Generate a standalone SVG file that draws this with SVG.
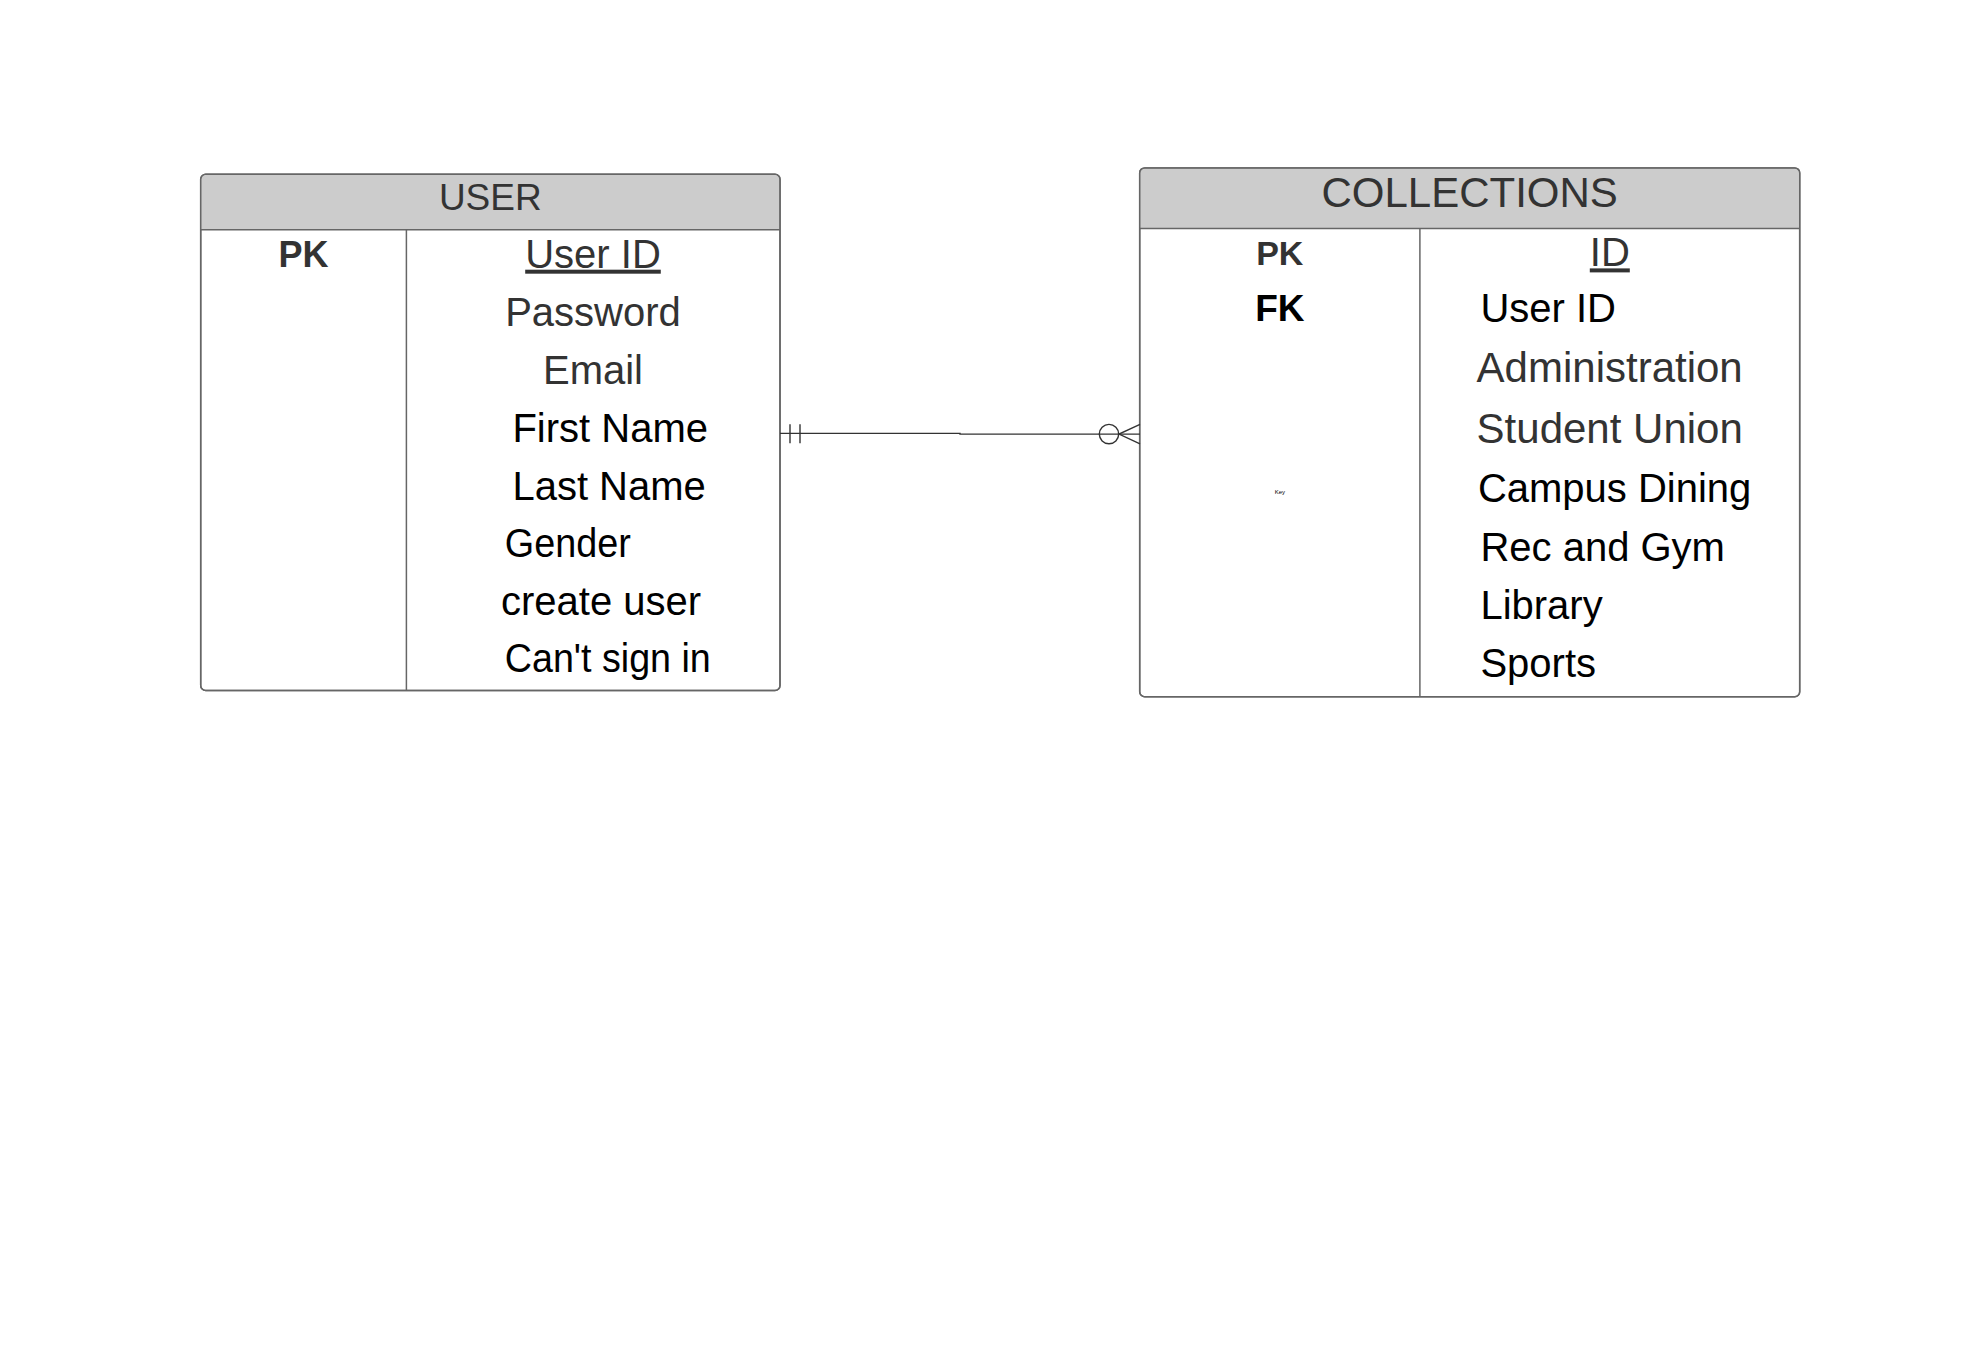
<svg xmlns="http://www.w3.org/2000/svg" width="1979" height="1360" viewBox="0 0 1979 1360">
<style>
.box{fill:#fff;stroke:#666;stroke-width:1.5}
.hdr{fill:#ccc;stroke:none}
.sep{stroke:#666;stroke-width:1.5;fill:none}
.t{font-family:"Liberation Sans",Arial,sans-serif;font-size:40px}
.t42{font-size:42px}
.g{fill:#333}
.k{fill:#000}
.title{font-family:"Liberation Sans",Arial,sans-serif;fill:#333;text-anchor:middle}
.key{font-family:"Liberation Sans",Arial,sans-serif;font-weight:bold;text-anchor:middle}
.c{text-anchor:middle}
.conn{stroke:#333;stroke-width:1.4;fill:none}
</style>
<rect width="1979" height="1360" fill="#fff"/>
<g id="user">
<rect class="box" x="200.7" y="174.2" width="579.3" height="516.2" rx="5"/>
<path class="hdr" d="M201.5 229.7 V179.2 a4.5 4.5 0 0 1 4.5 -4.3 H774.7 a4.5 4.5 0 0 1 4.5 4.3 V229.7 Z"/>
<rect x="200.7" y="174.2" width="579.3" height="516.2" rx="5" fill="none" stroke="#666" stroke-width="1.5"/>
<line class="sep" x1="200.7" y1="229.7" x2="780" y2="229.7"/>
<line class="sep" x1="406.4" y1="229.7" x2="406.4" y2="690.4"/>
<text class="title" x="490.3" y="210" font-size="37">USER</text>
<text class="key g" x="303.5" y="266.6" font-size="36">PK</text>
<text class="t g c" x="593" y="267.7" text-decoration="underline">User ID</text>
<text class="t g c" x="593" y="325.7">Password</text>
<text class="t g c" x="593" y="383.8">Email</text>
<text class="t k" x="512.4" y="441.8">First Name</text>
<text class="t k" x="512.4" y="499.9">Last Name</text>
<text class="t k" x="504.8" y="556.7" textLength="126" lengthAdjust="spacingAndGlyphs">Gender</text>
<text class="t k" x="501" y="614.7">create user</text>
<text class="t k" x="504.8" y="671.5" textLength="206" lengthAdjust="spacingAndGlyphs">Can't sign in</text>
</g>
<g id="collections">
<rect class="box" x="1139.7" y="167.9" width="660" height="528.8" rx="5"/>
<path class="hdr" d="M1140.5 228.4 V172.9 a4.5 4.5 0 0 1 4.5 -4.3 H1794.4 a4.5 4.5 0 0 1 4.5 4.3 V228.4 Z"/>
<rect x="1139.7" y="167.9" width="660" height="528.8" rx="5" fill="none" stroke="#666" stroke-width="1.5"/>
<line class="sep" x1="1139.7" y1="228.4" x2="1799.7" y2="228.4"/>
<line class="sep" x1="1419.9" y1="228.4" x2="1419.9" y2="696.7"/>
<text class="title" x="1469.7" y="206.8" font-size="42">COLLECTIONS</text>
<text class="key g" x="1279.8" y="264.6" font-size="34">PK</text>
<text class="key k" x="1279.8" y="321.1" font-size="37">FK</text>
<text x="1279.8" y="494" font-family="Liberation Sans, Arial, sans-serif" font-size="6" text-anchor="middle" fill="#000">Key</text>
<text class="t g c" x="1609.8" y="266.4" text-decoration="underline">ID</text>
<text class="t k" x="1480.4" y="321.9">User ID</text>
<text class="t t42 g" x="1476.6" y="382.3">Administration</text>
<text class="t t42 g" x="1476.6" y="442.8">Student Union</text>
<text class="t k" x="1477.9" y="502.4">Campus Dining</text>
<text class="t k" x="1480.4" y="560.5">Rec and Gym</text>
<text class="t k" x="1480.4" y="618.5">Library</text>
<text class="t k" x="1480.4" y="676.6">Sports</text>
</g>
<g id="connectors">
<path class="conn" d="M780 433.4 H960 V434.1 H1140"/>
<line class="conn" x1="790" y1="424.3" x2="790" y2="443.3"/>
<line class="conn" x1="800" y1="424.3" x2="800" y2="443.3"/>
<circle class="conn" cx="1109" cy="434.1" r="9.7" fill="#fff"/>
<path class="conn" d="M1140 424.3 L1119 434.1 L1140 443.9"/>
</g>
</svg>
